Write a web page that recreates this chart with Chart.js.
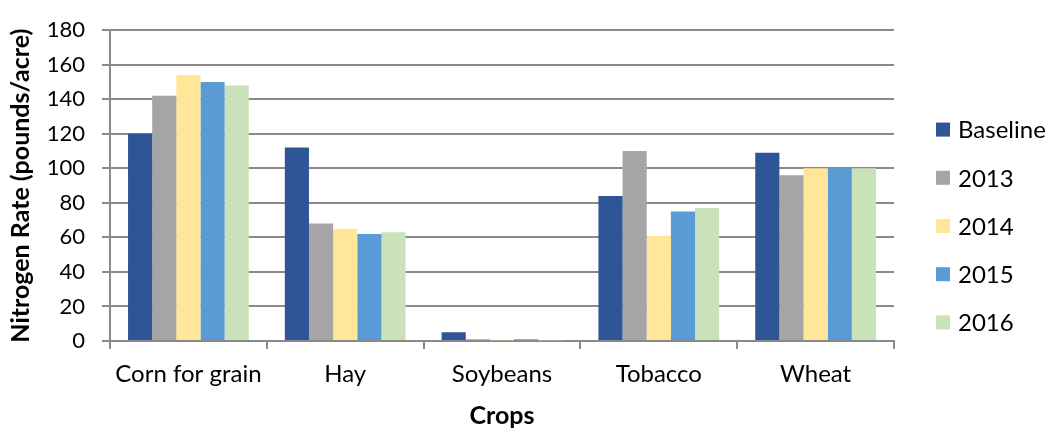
<!DOCTYPE html>
<html>
<head>
<meta charset="utf-8">
<script src="https://cdn.jsdelivr.net/npm/chart.js@4/dist/chart.umd.min.js"></script>
<style>
  html, body { margin: 0; padding: 0; background: #fff; }
  #wrap { width: 1054px; height: 431px; position: relative; }
</style>
</head>
<body>
<div id="wrap"><canvas id="c"></canvas></div>
<script>
// Nitrogen application rates by crop (pounds/acre)
const crops = ['Corn for grain', 'Hay', 'Soybeans', 'Tobacco', 'Wheat'];
const seriesNames = ['Baseline', '2013', '2014', '2015', '2016'];
const baseline = [120, 112, 5, 84, 109];
const y2013 = [142, 68, 1, 110, 96];
const y2014 = [154, 65, 0.5, 61, 100];
const y2015 = [150, 62, 1, 75, 100];
const y2016 = [148, 63, 0.5, 77, 100];
const yTicks = [0, 20, 40, 60, 80, 100, 120, 140, 160, 180];

const colors = ['#2F5597', '#A5A5A5', '#FFE699', '#5B9BD5', '#C9E2B9'];
const seriesValues = [baseline, y2013, y2014, y2015, y2016];
const gridColor = '#8A8A8A';
const FONT = 'Lato, "Open Sans", sans-serif';

// Legend drawn to the right of the plot, one row per dataset
const sideLegend = {
  id: 'sideLegend',
  afterDraw(chart) {
    const ctx = chart.ctx;
    const items = chart.data.datasets;
    const rowGap = 48.2;
    const midY = 226;
    const boxX = 936, box = 14, textX = 958;
    ctx.save();
    ctx.font = '24px ' + FONT;
    ctx.textBaseline = 'middle';
    items.forEach((ds, i) => {
      const cy = midY + (i - (items.length - 1) / 2) * rowGap;
      ctx.fillStyle = ds.backgroundColor;
      ctx.fillRect(boxX, cy - box / 2, box, box);
      ctx.fillStyle = '#000';
      ctx.fillText(ds.label, textX, cy + 1);
    });
    ctx.restore();
  }
};

new Chart(document.getElementById('c'), {
  type: 'bar',
  data: {
    labels: crops,
    datasets: seriesNames.map((name, i) => ({
      label: name,
      data: seriesValues[i],
      backgroundColor: colors[i],
      borderWidth: 0,
      categoryPercentage: 0.77,
      barPercentage: 1.0
    }))
  },
  options: {
    responsive: true,
    maintainAspectRatio: false,
    animation: false,
    devicePixelRatio: 1,
    layout: { padding: { top: 15, right: 160, left: 0, bottom: 0 } },
    plugins: {
      legend: { display: false },
      tooltip: { enabled: false }
    },
    scales: {
      x: {
        afterFit(s) { s.height = 90; },
        offset: true,
        grid: {
          offset: true,
          drawOnChartArea: false,
          drawTicks: true,
          tickLength: 8,
          color: gridColor,
          lineWidth: 2
        },
        border: { display: true, color: gridColor, width: 2 },
        ticks: {
          color: '#000',
          font: { family: FONT, size: 24 },
          padding: 11,
          maxRotation: 0
        },
        title: {
          display: true,
          text: 'Crops',
          color: '#000',
          font: { family: FONT, size: 25, weight: 'bold' },
          padding: { top: 2, bottom: 0 }
        }
      },
      y: {
        afterFit(s) { s.width = 110; },
        min: 0,
        max: 180,
        afterBuildTicks(s) { s.ticks = yTicks.map(v => ({ value: v })); },
        grid: {
          color: gridColor,
          lineWidth: 2,
          drawTicks: true,
          tickLength: 8
        },
        border: { display: true, color: gridColor, width: 2 },
        ticks: {
          color: '#000',
          font: { family: FONT, size: 22 },
          padding: 17
        },
        title: {
          display: true,
          text: 'Nitrogen Rate (pounds/acre)',
          color: '#000',
          font: { family: FONT, size: 25, weight: 'bold' },
          padding: { top: 6, bottom: 0 }
        }
      }
    }
  },
  plugins: [sideLegend]
});
</script>
</body>
</html>
